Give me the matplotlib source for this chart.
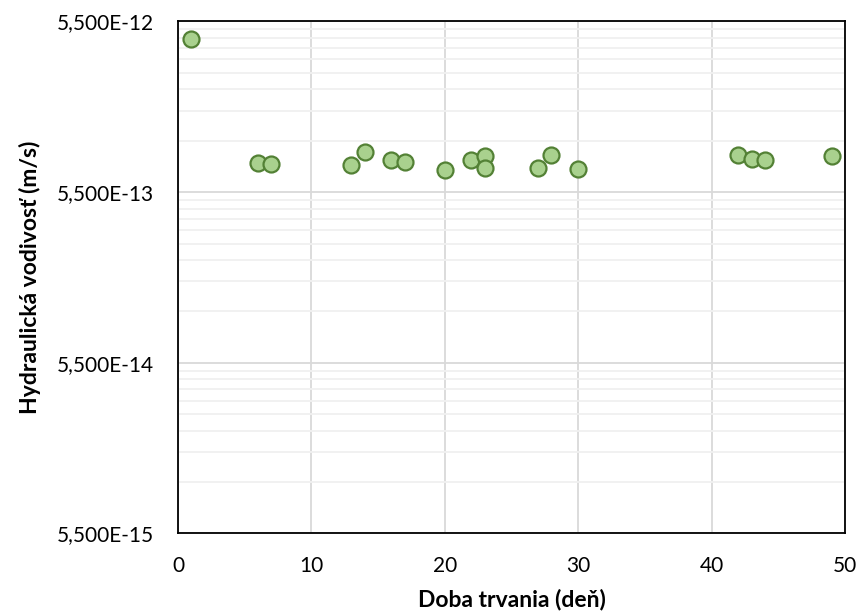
import numpy as np
import matplotlib.pyplot as plt
from matplotlib.ticker import FixedLocator, FuncFormatter, NullFormatter

plt.rcParams['font.family'] = ['Lato', 'DejaVu Sans']

# doba trvania (dni) a namerana hydraulicka vodivost (m/s)
days = [1, 6, 7, 13, 14, 16, 17, 20, 22, 23, 23, 27, 28, 30, 42, 43, 44, 49]
k_vals = [4.35e-12, 8.10e-13, 8.02e-13, 7.88e-13, 9.48e-13, 8.47e-13,
          8.24e-13, 7.40e-13, 8.47e-13, 8.94e-13, 7.57e-13, 7.57e-13,
          9.03e-13, 7.54e-13, 9.03e-13, 8.55e-13, 8.43e-13, 8.94e-13]

y_major = [5.5e-15, 5.5e-14, 5.5e-13, 5.5e-12]
y_minor = [5.5e-15 * 10**n * k for n in range(3) for k in range(2, 10)]

fig = plt.figure(figsize=(8.61, 6.12), dpi=100)
ax = fig.add_axes([0.2067, 0.1283, 0.7747, 0.8366])

ax.set_yscale('log')
ax.set_ylim(5.5e-15, 5.5e-12)
ax.set_xlim(0, 50)

ax.yaxis.set_major_locator(FixedLocator(y_major))
ax.yaxis.set_minor_locator(FixedLocator(y_minor))
ax.yaxis.set_minor_formatter(NullFormatter())
ax.yaxis.set_major_formatter(FuncFormatter(
    lambda v, p: ('%.3E' % v).replace('.', ',').replace('E-0', 'E-')))
ax.set_xticks(range(0, 51, 10))

ax.grid(which='major', color='#d9d9d9', lw=1.3)
ax.grid(which='minor', axis='y', color='#f0f0f0', lw=1.3)
ax.set_axisbelow(True)

ax.plot(days, k_vals, 'o', ms=11.5, mfc='#a9d18e', mec='#538135', mew=1.6,
        zorder=3)

for s in ax.spines.values():
    s.set_color('black')
    s.set_linewidth(1.3)

ax.tick_params(which='both', length=0, labelsize=15)
ax.tick_params(axis='y', pad=17)
ax.tick_params(axis='x', pad=16)

ax.set_xlabel('Doba trvania (deň)', fontsize=16.5, fontweight='bold', labelpad=9)
ax.set_ylabel('Hydraulická vodivosť (m/s)', fontsize=16.5, fontweight='bold',
              labelpad=12)

fig.savefig('out.png', dpi=100)
